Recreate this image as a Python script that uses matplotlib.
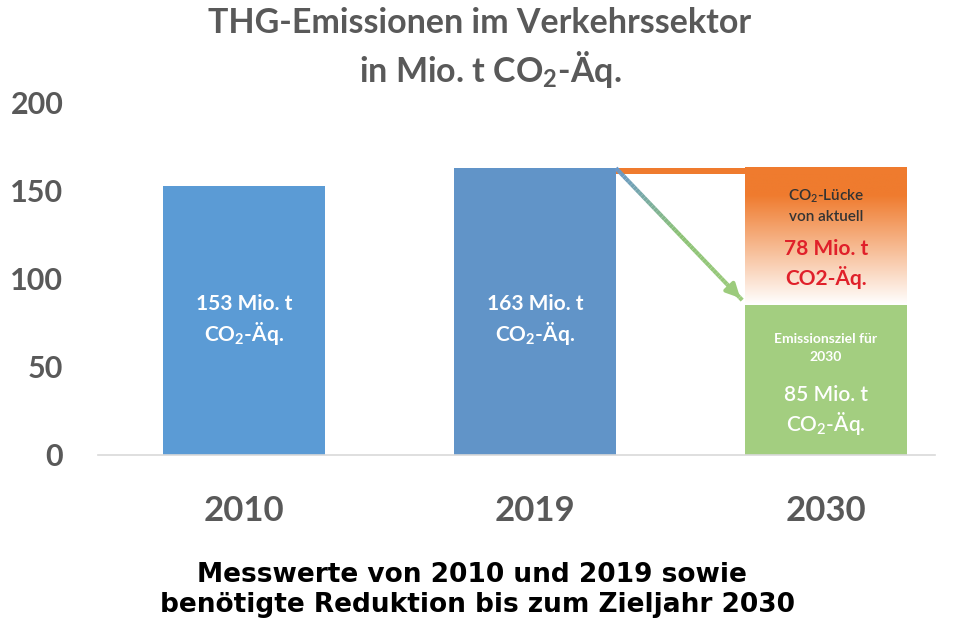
import numpy as np
import matplotlib
matplotlib.use('Agg')
import matplotlib.pyplot as plt
from matplotlib.collections import LineCollection

# Daten
jahre = ['2010', '2019', '2030']
werte = [153, 163, 85]
luecke = werte[1] - werte[2]  # 78
y_ticks = [0, 50, 100, 150, 200]

plt.rcParams['font.family'] = ['Lato', 'DejaVu Sans']

grau = '#595959'
blau1 = '#5B9BD5'
blau2 = '#6194C8'
gruen = '#A3CE80'
orange = '#EF7B2E'

fig = plt.figure(figsize=(9.61, 6.23), dpi=100)
ax = fig.add_axes([98 / 961, 168 / 623, 837 / 961, 352 / 623])

x = np.arange(len(jahre))
breite = 0.556
ax.bar(x, werte, width=breite, color=[blau1, blau2, gruen], zorder=2)

# Orange Lücke mit Verlauf
x0 = x[2] - breite / 2
x1 = x[2] + breite / 2
grad = np.linspace(0, 1, 256).reshape(-1, 1)
grad = np.clip(grad * 1.25, 0, 1)  # unten weiß, oben orange
cmap = matplotlib.colors.LinearSegmentedColormap.from_list('og', ['white', orange])
ax.imshow(grad, extent=[x0, x1, werte[2], werte[1]], origin='lower',
          cmap=cmap, aspect='auto', zorder=1)
# Orange Streifen oben
ax.fill_between([x[1] + breite / 2, x1], werte[1] - 3.4, werte[1],
                color=orange, linewidth=0, zorder=1)
ax.fill_between([x[1] + breite / 2, x0], werte[2], werte[1] - 3.4,
                color='white', linewidth=0, zorder=1.5)

# Pfeil von 2019 nach 2030 (Verlauf blau -> grün)
xs, ys = x[1] + breite / 2, werte[1]
xe, ye = x0 - 0.01, werte[2] + 3
n = 50
px = np.linspace(xs, xe, n)
py = np.linspace(ys, ye, n)
segs = np.stack([np.column_stack([px[:-1], py[:-1]]),
                 np.column_stack([px[1:], py[1:]])], axis=1)
farben = matplotlib.colors.LinearSegmentedColormap.from_list(
    'bg', ['#6A98C9', '#8CC276', '#9CCB7C'])(np.linspace(0, 1, n - 1))
ax.add_collection(LineCollection(segs, colors=farben, linewidths=3, zorder=3))
ax.annotate('', xy=(xe, ye), xytext=(px[-6], py[-6]),
            arrowprops=dict(arrowstyle='-|>', color='#9CCB7C', lw=3,
                            mutation_scale=20), zorder=4)

# Beschriftungen in den Balken
for i in range(2):
    ax.text(x[i], 86, f'{werte[i]} Mio. t', ha='center', va='center',
            color='white', fontsize=15, fontweight='bold', zorder=5)
    ax.text(x[i], 69, r'CO$_\mathregular{2}$-Äq.', ha='center', va='center',
            color='white', fontsize=15, fontweight='bold', zorder=5)

ax.text(x[2], 147, r'CO$_\mathregular{2}$-Lücke', ha='center', va='center',
        color='#333333', fontsize=11, fontweight='semibold', zorder=5)
ax.text(x[2], 135, 'von aktuell', ha='center', va='center',
        color='#333333', fontsize=11, fontweight='semibold', zorder=5)
ax.text(x[2], 117, f'{luecke} Mio. t', ha='center', va='center',
        color='#E0202A', fontsize=15, fontweight='bold', zorder=5)
ax.text(x[2], 101, 'CO2-Äq.', ha='center', va='center',
        color='#E0202A', fontsize=15, fontweight='bold', zorder=5)

ax.text(x[2], 66, 'Emissionsziel für', ha='center', va='center',
        color='white', fontsize=10, fontweight='bold', zorder=5)
ax.text(x[2], 55.5, jahre[2], ha='center', va='center',
        color='white', fontsize=10, fontweight='bold', zorder=5)
ax.text(x[2], 34, f'{werte[2]} Mio. t', ha='center', va='center',
        color='white', fontsize=15, fontweight='semibold', zorder=5)
ax.text(x[2], 18, r'CO$_\mathregular{2}$-Äq.', ha='center', va='center',
        color='white', fontsize=15, fontweight='semibold', zorder=5)

# Achsen
ax.set_xlim((98 - 244) / 291, (935 - 244) / 291)
ax.set_ylim(0, 200)
ax.set_yticks(y_ticks)
ax.set_yticklabels([str(t) for t in y_ticks], fontsize=22,
                   fontweight='bold', color=grau)
ax.set_xticks(x)
ax.set_xticklabels(jahre, fontsize=25, fontweight='bold', color=grau)
ax.tick_params(axis='y', length=0, pad=25)
ax.tick_params(axis='x', length=0, pad=29)
for s in ['top', 'right', 'left']:
    ax.spines[s].set_visible(False)
ax.spines['bottom'].set_color('#D9D9D9')
ax.spines['bottom'].set_linewidth(1.2)

# Titel
fig.text(480 / 961, 1 - 23 / 623, 'THG-Emissionen im Verkehrssektor',
         ha='center', va='center', fontsize=24.5, fontweight='bold', color=grau)
fig.text(490 / 961, 1 - 70 / 623, r'in Mio. t CO$_\mathregular{2}$-Äq.',
         ha='center', va='center', fontsize=24.5, fontweight='bold', color=grau)

# Untertitel
fig.text(472 / 961, 1 - 575 / 623, 'Messwerte von 2010 und 2019 sowie',
         ha='center', va='center', fontsize=19, fontweight='bold',
         color='black', family='DejaVu Sans')
fig.text(478 / 961, 1 - 605 / 623, 'benötigte Reduktion bis zum Zieljahr 2030',
         ha='center', va='center', fontsize=19, fontweight='bold',
         color='black', family='DejaVu Sans')

plt.savefig('out.png', dpi=100)
plt.close()
